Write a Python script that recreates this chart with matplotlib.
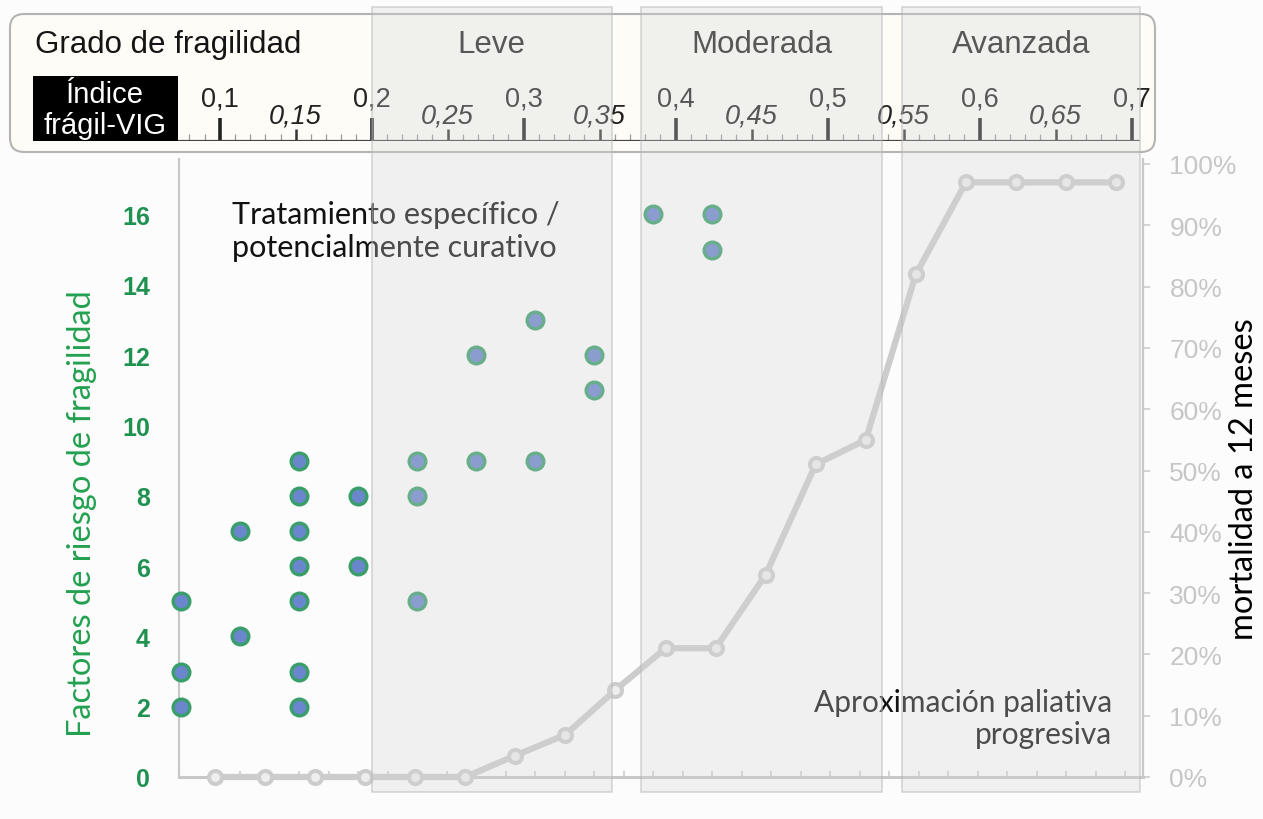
import matplotlib
matplotlib.use("Agg")
import matplotlib.pyplot as plt
import matplotlib.transforms as mtransforms
from matplotlib.patches import FancyBboxPatch, Rectangle

plt.rcParams["font.family"] = ["Liberation Sans", "DejaVu Sans"]

# ---- data
# frailty risk factors (left axis), one dot per patient group
risk_x = [1, 1, 1, 2, 2, 3, 3, 3, 3, 3, 3, 3, 4, 4, 5, 5, 5, 6, 6, 7, 7, 8, 8, 9, 10, 10]
risk_y = [5, 3, 2, 7, 4, 9, 8, 7, 6, 5, 3, 2, 8, 6, 9, 8, 5, 12, 9, 13, 9, 12, 11, 16, 16, 15]

# 12-month mortality (right axis, %)
mort_x = list(range(1, 20))
mort_pct = [0, 0, 0, 0, 0, 0, 3.5, 6.9, 14.2, 21, 21, 33, 51, 55, 82, 97, 97, 97, 97]

left_ticks = [0, 2, 4, 6, 8, 10, 12, 14, 16]
right_ticks = [0, 10, 20, 30, 40, 50, 60, 70, 80, 90, 100]

# frailty-VIG ruler
ruler_major = [0.1, 0.2, 0.3, 0.4, 0.5, 0.6, 0.7]
ruler_major_lbl = ["0,1", "0,2", "0,3", "0,4", "0,5", "0,6", "0,7"]
ruler_half = [0.15, 0.25, 0.35, 0.45, 0.55, 0.65]
ruler_half_lbl = ["0,15", "0,25", "0,35", "0,45", "0,55", "0,65"]

grados = ["Leve", "Moderada", "Avanzada"]
grado_lo = [0.200, 0.377, 0.549]
grado_hi = [0.358, 0.536, 0.7055]

GREEN_RING = "#3a9e6b"
BLUE_CORE = "#6a86cc"
GREEN_TXT = "#1f9150"
LINE_GRAY = "#cccccc"
AXIS_GRAY = "#c8c8c8"
CAL = ["Lato", "DejaVu Sans"]   # stand-in for Calibri

W, H = 1263, 820


def px_rect(x0, y0, x1, y1):
    # pixel box (top-left origin) -> figure fraction rect
    return [x0 / W, 1 - y1 / H, (x1 - x0) / W, (y1 - y0) / H]


fig = plt.figure(figsize=(W / 100, H / 100), dpi=100)
fig.patch.set_facecolor("#fcfcfc")

# ---- background layer: header box, black label box, header texts
bg = fig.add_axes([0, 0, 1, 1], zorder=0)
bg.set_xlim(0, W); bg.set_ylim(H, 0); bg.axis("off")
bg.add_patch(FancyBboxPatch((10, 15), 1145, 138,
                            boxstyle="round,pad=0,rounding_size=14",
                            fc="#fdfcf6", ec="#b4b4b4", lw=1.5))
bg.add_patch(Rectangle((33, 77), 145, 65, fc="black", ec="none", zorder=3))
bg.text(105, 95, "Índice", color="white", fontsize=21, ha="center", va="center", zorder=4)
bg.text(105, 126, "frágil-VIG", color="white", fontsize=21, ha="center", va="center", zorder=4)
bg.text(35, 45, "Grado de fragilidad", fontsize=22.5, color="#151515", ha="left", va="center")

# ---- ruler (frailty-VIG index)
ru = fig.add_axes(px_rect(178, 78, 1140, 142), zorder=1)
ru.set_xlim(0.4 - (675.7 - 178) / 1520, 0.4 + (1140 - 675.7) / 1520)
ru.set_ylim(0, 64)
ru.axis("off")
ru.patch.set_alpha(0)
minor = [round(0.08 + 0.01 * k, 2) for k in range(63)]
minor = [m for m in minor if m not in ruler_major and m not in ruler_half]
ru.vlines(minor, 0, 7, color="#9a9a9a", lw=0.9)
ru.vlines(ruler_half, 0, 12, color="#333333", lw=1.8)
ru.vlines(ruler_major, 0, 23, color="#222222", lw=2.6)
ru.axhline(0, color="#444444", lw=1.6)
for v, s in zip(ruler_major, ruler_major_lbl):
    ru.text(v, 42, s, fontsize=19.5, color="#222222", ha="center", va="center")
for v, s in zip(ruler_half, ruler_half_lbl):
    ru.text(v, 25, s, fontsize=19.5, color="#222222", ha="center", va="center", style="italic")

# header grade names centred on bands
for lo, hi, g in zip(grado_lo, grado_hi, grados):
    ru.text((lo + hi) / 2, 97, g, fontsize=22.5, color="#222222", ha="center", va="center",
            clip_on=False)

# ---- main axes: risk factors scatter
rect = px_rect(179, 160, 1143, 778)
ax = fig.add_axes(rect, zorder=2)
ax.patch.set_facecolor("#fcfcfc")
ax.set_xlim(1 - 2 / 59, 1 - 2 / 59 + 964 / 59)
ax.set_ylim(0, (778 - 160) / 35.16)
ax.plot(risk_x, risk_y, ls="none", marker="o", ms=12, mfc=BLUE_CORE,
        mec=GREEN_RING, mew=2.4, clip_on=False, zorder=5)
ax.set_yticks(left_ticks)
ax.set_yticklabels([str(t) for t in left_ticks])
ax.tick_params(axis="y", length=0, pad=21, labelsize=18, labelcolor=GREEN_TXT)
for lab in ax.get_yticklabels():
    lab.set_fontweight("bold")
xt = [1.5 + 0.5 * k for k in range(32)]
ax.set_xticks(xt)
ax.tick_params(axis="x", direction="in", length=4.5, width=1.1, color=AXIS_GRAY,
               labelbottom=False)
for s in ["top", "right"]:
    ax.spines[s].set_visible(False)
ax.spines["left"].set_color(AXIS_GRAY); ax.spines["left"].set_linewidth(1.6)
ax.spines["bottom"].set_color(AXIS_GRAY); ax.spines["bottom"].set_linewidth(2.2)

ax.text(-0.1006, 0.427, "Factores de riesgo de fragilidad", transform=ax.transAxes,
        rotation=90, ha="center", va="center", rotation_mode="anchor",
        fontsize=23.5, color="#22a04f", family=CAL)
ax.text(0.055, 0.884, "Tratamiento específico /\npotencialmente curativo",
        transform=ax.transAxes, ha="left", va="center", fontsize=22,
        linespacing=1.2, color="#111111", family=CAL, zorder=6)
ax.text(0.968, 0.0955, "Aproximación paliativa\nprogresiva", transform=ax.transAxes,
        ha="right", va="center", multialignment="right", fontsize=21.5,
        linespacing=1.2, color="#111111", family=CAL, zorder=6)

# ---- mortality line on its own x scale, right axis
am = fig.add_axes(rect, zorder=3)
am.patch.set_alpha(0)
am.set_xlim(1 - 36 / 50.06, 1 - 36 / 50.06 + 964 / 50.06)
am.set_ylim(0, (778 - 160) / 6.13)
am.plot(mort_x, mort_pct, color=LINE_GRAY, lw=4.5, marker="o", ms=9.4,
        mfc="#eeeeee", mec=LINE_GRAY, mew=2.9, clip_on=False, zorder=4)
am.yaxis.tick_right()
am.set_yticks(right_ticks)
am.set_yticklabels([f"{t}%" for t in right_ticks])
am.tick_params(axis="y", direction="out", length=5, width=1.1, color=AXIS_GRAY,
               pad=14, labelsize=19, labelcolor="#c6c6c6")
am.set_xticks([])
for s in ["top", "left", "bottom"]:
    am.spines[s].set_visible(False)
am.spines["right"].set_color(AXIS_GRAY); am.spines["right"].set_linewidth(1.6)
am.text(1.105, 0.484, "mortalidad a 12 meses", transform=am.transAxes, rotation=90,
        ha="center", va="center", rotation_mode="anchor", fontsize=23.5, color="black",
        family=CAL)

# ---- translucent grade bands laid over everything
ov = fig.add_axes([0, 0, 1, 1], zorder=10)
ov.set_xlim(0, W); ov.set_ylim(H, 0); ov.axis("off")
ov.patch.set_alpha(0)
btr = mtransforms.blended_transform_factory(ru.transData, ov.transData)
for lo, hi in zip(grado_lo, grado_hi):
    ov.add_patch(Rectangle((lo, 8), hi - lo, 785, transform=btr,
                           fc=(0.835, 0.835, 0.835, 0.3),
                           ec=(0.72, 0.72, 0.72, 0.55), lw=1.2))

fig.savefig("out.png", dpi=100, facecolor=fig.get_facecolor())
